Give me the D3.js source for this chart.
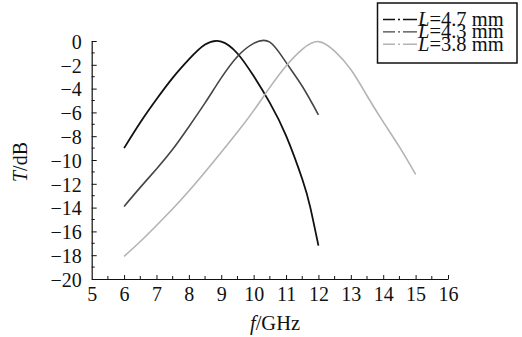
<!DOCTYPE html>
<html>
<head>
<meta charset="utf-8">
<script src="https://cdn.jsdelivr.net/npm/d3@7"></script>
<style>
  body { margin: 0; background: #fff; }
  text { font-family: "Liberation Serif", "Times New Roman", serif; fill: #111; }
</style>
</head>
<body>
<div id="chart"></div>
<script>
// frequency (GHz) sample points for each curve
var freq47 = [6, 6.5, 7, 7.5, 8, 8.5, 9, 9.5, 10, 10.5, 11, 11.5, 11.75, 12];
var t47    = [-9.0, -6.85, -4.9, -3.1, -1.55, -0.3, -0.05, -1.05, -2.95, -5.2, -7.95, -11.6, -14.0, -17.2];

var freq43 = [6, 6.5, 7, 7.5, 8, 8.5, 9, 9.5, 10, 10.5, 11, 11.5, 12];
var t43    = [-13.9, -12.3, -10.75, -9.1, -7.2, -5.2, -3.1, -1.3, -0.2, -0.1, -1.8, -3.8, -6.2];

var freq38 = [6, 6.5, 7, 7.5, 8, 8.5, 9, 9.5, 10, 10.5, 11, 11.5, 12, 12.5, 13, 13.5, 14, 14.5, 15];
var t38    = [-18.1, -16.85, -15.5, -14.1, -12.6, -11.0, -9.35, -7.65, -5.85, -3.9, -2.1, -0.7, -0.05, -0.85, -2.4, -4.6, -6.8, -8.9, -11.2];

var seriesNames = ["4.7", "4.3", "3.8"];
var xTicks = [5, 6, 7, 8, 9, 10, 11, 12, 13, 14, 15, 16];
var yTicks = [0, -2, -4, -6, -8, -10, -12, -14, -16, -18, -20];

var w = 522, h = 337;
var colors = ["#111111", "#454545", "#b4b4b4"];

var svg = d3.select("#chart")
  .append("svg")
  .attr("width", w)
  .attr("height", h)
  .style("background-color", "white");

var x = d3.scaleLinear().domain([5, 16]).range([91.7, 448]);
var y = d3.scaleLinear().domain([-20, 0]).range([279, 41]);

// axes (ticks point inward)
var xAxis = svg.append("g")
  .attr("transform", "translate(0," + y(-20) + ")")
  .call(d3.axisBottom(x).tickValues(xTicks).tickSizeInner(-4).tickSizeOuter(0).tickPadding(8).tickFormat(d3.format("d")));
xAxis.selectAll("g.tick").filter(function (d) { return d === 5; }).select("line").remove();

var yAxis = svg.append("g")
  .attr("transform", "translate(" + x(5) + ",0)")
  .call(d3.axisLeft(y).tickValues(yTicks).tickSizeInner(-5).tickSizeOuter(0).tickPadding(10));

// minor ticks
var xMinor = d3.range(5.5, 16, 1);
svg.append("g").selectAll("line").data(xMinor).enter().append("line")
  .attr("x1", function (d) { return x(d); })
  .attr("x2", function (d) { return x(d); })
  .attr("y1", y(-20))
  .attr("y2", y(-20) - 3)
  .attr("stroke", "#111");
var yMinor = d3.range(-19, 0, 2);
svg.append("g").selectAll("line").data(yMinor).enter().append("line")
  .attr("x1", x(5))
  .attr("x2", x(5) + 3)
  .attr("y1", function (d) { return y(d); })
  .attr("y2", function (d) { return y(d); })
  .attr("stroke", "#111");

svg.selectAll(".domain").attr("stroke", "#111").attr("stroke-width", 1.2);
svg.selectAll(".tick line").attr("stroke", "#111");
svg.selectAll(".tick text")
  .style("font-family", "'Liberation Serif', serif")
  .style("font-size", "20px")
  .attr("fill", "#111");
xAxis.selectAll(".tick text").attr("dy", "0.7em");
yAxis.selectAll(".tick text").attr("dy", "0.36em");

// axis titles
svg.append("text")
  .attr("transform", "translate(27," + 162 + ") rotate(-90)")
  .style("text-anchor", "middle")
  .style("font-size", "20px")
  .html("<tspan font-style='italic'>T</tspan>/dB");

svg.append("text")
  .attr("x", 275)
  .attr("y", 330)
  .style("text-anchor", "middle")
  .style("font-size", "20.5px")
  .html("<tspan font-style='italic'>f</tspan>/GHz");

// curves
var line = d3.line()
  .x(function (d) { return x(d[0]); })
  .y(function (d) { return y(d[1]); })
  .curve(d3.curveNatural);

var series = [
  d3.zip(freq47, t47),
  d3.zip(freq43, t43),
  d3.zip(freq38, t38)
];
var widths = [1.8, 1.6, 1.6];

svg.append("g").selectAll("path")
  .data(series)
  .enter()
  .append("path")
  .attr("d", line)
  .attr("fill", "none")
  .attr("stroke", function (d, i) { return colors[i]; })
  .attr("stroke-width", function (d, i) { return widths[i]; });

// legend
var legend = svg.append("g");
legend.append("rect")
  .attr("x", 377.5)
  .attr("y", 3)
  .attr("width", 139.5)
  .attr("height", 60)
  .attr("fill", "white")
  .attr("stroke", "#111")
  .attr("stroke-width", 1.5);

seriesNames.forEach(function (name, i) {
  var cy = 19.5 + i * 12.4;
  legend.append("line")
    .attr("x1", 383)
    .attr("x2", 417)
    .attr("y1", cy)
    .attr("y2", cy)
    .attr("stroke", colors[i])
    .attr("stroke-width", 1.4)
    .attr("stroke-dasharray", "12,3,2,3,14");
  legend.append("text")
    .attr("x", 418)
    .attr("y", cy + 6.5)
    .style("font-size", "20.5px")
    .html("<tspan font-style='italic'>L</tspan>=" + name + " mm");
});
</script>
</body>
</html>
